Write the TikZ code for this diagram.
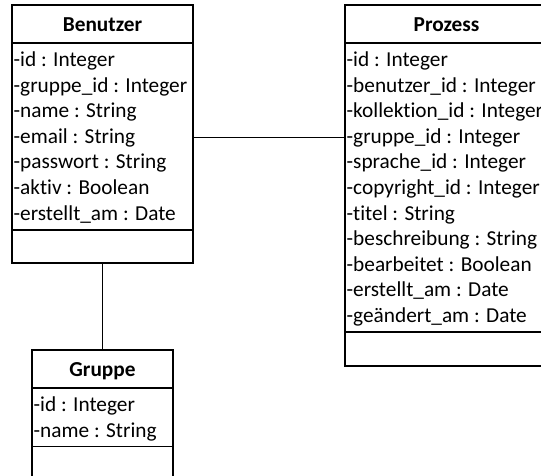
\documentclass[tikz,border=0pt]{standalone}
\usepackage{fontspec}
\setmainfont{Carlito}[Ligatures=NoCommon]
\begin{document}
\begin{tikzpicture}[x=1pt,y=-1pt,
  frame/.style={draw,line width=1.3pt},
  classbox/.style={frame,rectangle,inner sep=0pt,outer sep=0pt,anchor=north west},
  attr/.style={anchor=base west,inner sep=0pt,font=\fontsize{21.3}{25}\selectfont},
  title/.style={anchor=base,inner sep=0pt,font=\fontsize{21.3}{25}\selectfont\bfseries},
  link/.style={line width=1.1pt}]
\useasboundingbox (0,0) rectangle (541,475);
\clip (0,0) rectangle (541,475);

% Benutzer
\node[classbox,minimum width=181pt,minimum height=258pt] (benutzer) at (12,5) {};
\draw[frame] (12,43) -- (193,43);
\draw[frame] (12,230) -- (193,230);
\node[title] (btitle) at (102.5,31) {Benutzer};
\foreach \t [count=\i from 0] in {-id : Integer,-gruppe\_id : Integer,-name : String,
  -email : String,-passwort : String,-aktiv : Boolean,-erstellt\_am : Date}
  \node[attr] (b\i) at (13.5,{66.5+25.6*\i}) {\t};

% Prozess
\node[classbox,minimum width=203pt,minimum height=361pt] (prozess) at (345,5) {};
\draw[frame] (345,43) -- (548,43);
\draw[frame] (345,332) -- (548,332);
\node[title] (ptitle) at (446.5,31) {Prozess};
\foreach \t [count=\i from 0] in {-id : Integer,-benutzer\_id : Integer,-kollektion\_id : Integer,
  -gruppe\_id : Integer,-sprache\_id : Integer,-copyright\_id : Integer,-titel : String,
  -beschreibung : String,-bearbeitet : Boolean,-erstellt\_am : Date,-geändert\_am : Date}
  \node[attr] (p\i) at (346.5,{66.5+25.6*\i}) {\t};

% Gruppe
\node[classbox,minimum width=141pt,minimum height=130pt] (gruppe) at (32,350) {};
\draw[frame] (32,388) -- (173,388);
\draw[frame] (32,446.5) -- (173,446.5);
\node[title] (gtitle) at (102.5,376) {Gruppe};
\foreach \t [count=\i from 0] in {-id : Integer,-name : String}
  \node[attr] (g\i) at (33.5,{411.5+25.6*\i}) {\t};

% Associations
\draw[link] (benutzer.east |- p3.west) -- (prozess.west |- p3.west);
\draw[link] (benutzer.south) -- (gruppe.north);
\end{tikzpicture}
\end{document}
